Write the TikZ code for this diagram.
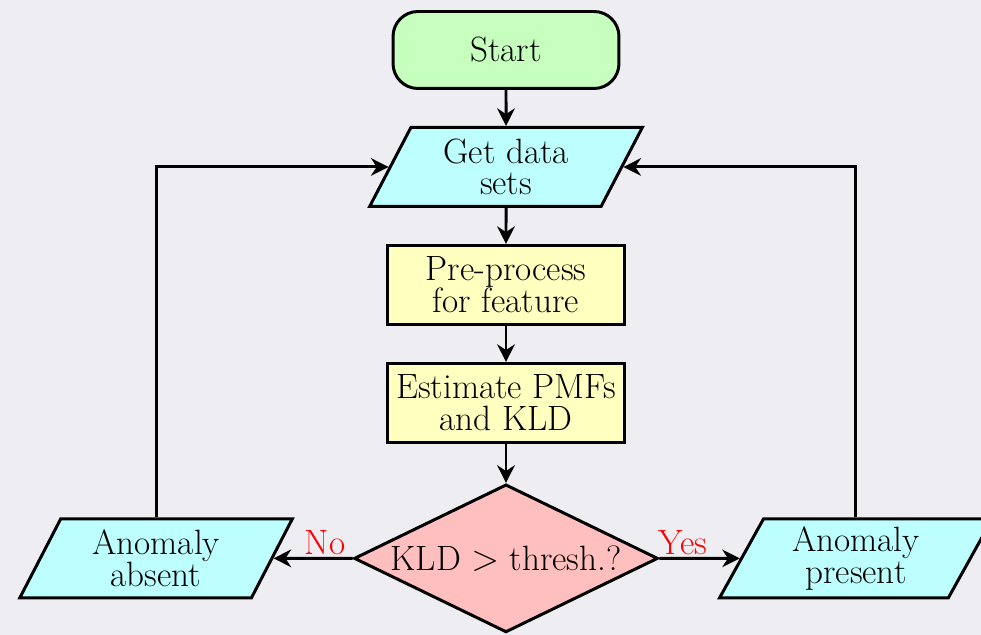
\documentclass[tikz,border=0pt]{standalone}
\usetikzlibrary{shapes.geometric}
\usetikzlibrary{positioning}
\usetikzlibrary{arrows.meta}
\definecolor{bgcol}{HTML}{EEEEF2}
\definecolor{startcol}{HTML}{C6FFBE}
\definecolor{iocol}{HTML}{BDFFFF}
\definecolor{proccol}{HTML}{FFFFC0}
\definecolor{deccol}{HTML}{FFBFBF}

\begin{document}
\begin{tikzpicture}[x=0.02cm,y=-0.02cm,>={Stealth[length=10pt,width=10pt]},
	line width=1.7pt,node distance=0.72cm,
	font=\fontsize{20}{18}\selectfont,
	start node/.style={rectangle,rounded corners=0.5cm,draw,fill=startcol,
		minimum width=4.52cm,minimum height=1.54cm},
	io node/.style={trapezium,trapezium left angle=65,trapezium right angle=115,
		trapezium stretches=true,draw,fill=iocol,align=center,inner sep=1pt,
		minimum width=5.46cm,minimum height=1.58cm},
	proc node/.style={rectangle,draw,fill=proccol,align=center,inner sep=1pt,
		minimum width=4.74cm,minimum height=1.58cm},
	dec node/.style={diamond,aspect=2.05,draw,fill=deccol,inner sep=0pt,
		minimum width=6.08cm,minimum height=2.96cm},
	answer/.style={text=red,above,inner sep=1pt}]
	
	\fill[bgcol] (0,0) rectangle (981,635);
	\useasboundingbox (0,0) rectangle (981,635);
	
	\node[start node] (start) at (506,50) {Start};
	\node[io node] (gd) [below=0.72cm of start] {Get data\\sets};
	\node[proc node] (pre) [below=of gd] {Pre-process\\for feature};
	\node[proc node] (est) [below=of pre] {Estimate PMFs\\and KLD};
	\node[dec node] (kld) [below=0.78cm of est] {KLD $>$ thresh.?};
	\node[io node] (absent) at ([xshift=-7cm]kld) {Anomaly\\absent};
	\node[io node] (present) at ([xshift=7cm]kld) {Anomaly\\present};
	
	\draw[->] (start) -- (gd);
	\draw[->] (gd) -- (pre);
	\draw[->] (pre) -- (est);
	\draw[->] (est) -- (kld);
	\draw[->] (kld) -- node[answer,pos=0.35] {No} (absent);
	\draw[->] (kld) -- node[answer,pos=0.29] {Yes} (present);
	\draw[->] (absent.north) |- (gd);
	\draw[->] (present.north) |- (gd);
\end{tikzpicture}
\end{document}
